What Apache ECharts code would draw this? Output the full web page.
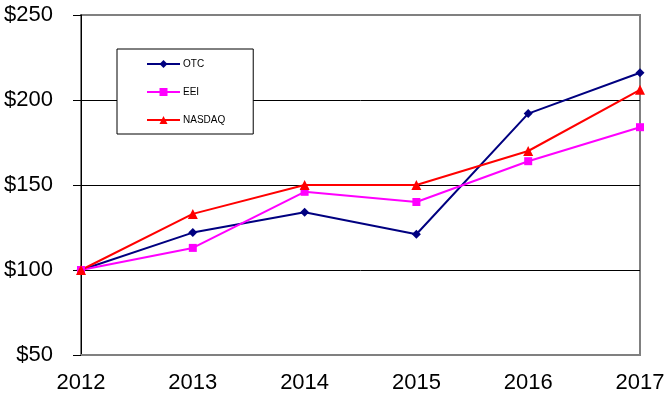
<!DOCTYPE html>
<html>
<head>
<meta charset="utf-8">
<script src="https://cdn.jsdelivr.net/npm/echarts@6/dist/echarts.min.js"></script>
<style>
    html, body { margin: 0; padding: 0; background: #fff; }
    #chart { width: 669px; height: 397px; }
</style>
</head>
<body>
<div id="chart"></div>
<script>
    const years = ['2012', '2013', '2014', '2015', '2016', '2017'];
    const otc = [100, 122, 134, 121, 192, 216];
    const eei = [100, 113, 146, 140, 164, 184];
    const nasdaq = [100, 133, 150, 150, 170, 206];

    const chart = echarts.init(document.getElementById('chart'));
    chart.setOption({
        backgroundColor: '#ffffff',
        animation: false,
        textStyle: {fontFamily: 'Liberation Sans, Arial, sans-serif'},
        grid: {
            left: 81,
            right: 29,
            top: 15,
            bottom: 42,
            show: true,
            borderColor: '#808080',
            borderWidth: 2
        },
        legend: {
            orient: 'vertical',
            left: 117,
            top: 49,
            padding: [10, 28, 9, 29],
            itemWidth: 33,
            itemHeight: 10,
            itemGap: 18,
            backgroundColor: '#ffffff',
            borderColor: '#000000',
            borderWidth: 1,
            textStyle: {fontSize: 10, color: '#000', padding: [0, 0, 0, -2]},
            data: ['OTC', 'EEI', 'NASDAQ']
        },
        xAxis: {
            type: 'category',
            data: years,
            boundaryGap: false,
            axisLine: {lineStyle: {color: '#808080', width: 2}},
            axisTick: {show: false},
            axisLabel: {fontSize: 22, color: '#000', margin: 17}
        },
        yAxis: {
            type: 'value',
            min: 50,
            max: 250,
            interval: 50,
            axisLine: {show: true, lineStyle: {color: '#000', width: 1}},
            axisTick: {show: true, length: 8, lineStyle: {color: '#000'}},
            axisLabel: {
                fontSize: 22,
                color: '#000',
                margin: 28,
                formatter: v => '$' + v
            },
            splitLine: {
                show: true,
                lineStyle: {color: ['#808080', '#000', '#000', '#000', '#808080'], width: 1}
            }
        },
        series: [{
            name: 'OTC',
            type: 'line',
            data: otc,
            symbol: 'diamond',
            symbolSize: 9,
            color: '#000080',
            lineStyle: {width: 2}
        }, {
            name: 'EEI',
            type: 'line',
            data: eei,
            symbol: 'rect',
            symbolSize: 8,
            color: '#ff00ff',
            lineStyle: {width: 2}
        }, {
            name: 'NASDAQ',
            type: 'line',
            data: nasdaq,
            symbol: 'triangle',
            symbolSize: 10,
            color: '#ff0000',
            lineStyle: {width: 2}
        }]
    });
</script>
</body>
</html>
